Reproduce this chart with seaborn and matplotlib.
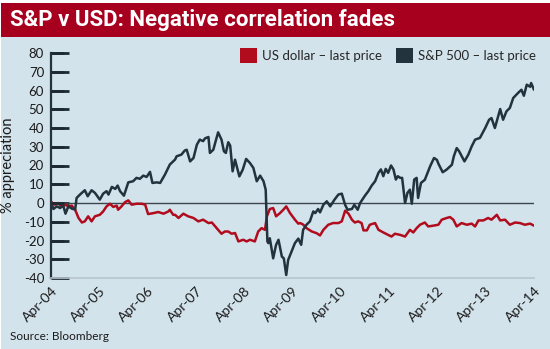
import numpy as np
import pandas as pd
import seaborn as sns
import matplotlib
matplotlib.use("Agg")
import matplotlib.pyplot as plt
from matplotlib.patches import Rectangle, Patch
from matplotlib.transforms import ScaledTranslation

# ---- data ----
sp_t = [2004.26, 2004.30, 2004.37, 2004.44, 2004.50, 2004.55, 2004.61, 2004.68, 2004.75, 2004.78,
        2004.85, 2004.95, 2005.01, 2005.09, 2005.16, 2005.26, 2005.33, 2005.40, 2005.44, 2005.51,
        2005.58, 2005.63, 2005.68, 2005.76, 2005.85, 2005.95, 2006.02, 2006.09, 2006.16, 2006.23,
        2006.30, 2006.35, 2006.44, 2006.51, 2006.61, 2006.71, 2006.82, 2006.85, 2006.95, 2007.02,
        2007.06, 2007.13, 2007.20, 2007.27, 2007.33, 2007.40, 2007.44, 2007.51, 2007.54, 2007.61,
        2007.71, 2007.78, 2007.83, 2007.87, 2007.92, 2007.96, 2008.01, 2008.06, 2008.15, 2008.22,
        2008.29, 2008.37, 2008.44, 2008.51, 2008.58, 2008.65, 2008.695, 2008.73, 2008.75, 2008.78,
        2008.85, 2008.91, 2008.96, 2009.03, 2009.07, 2009.12, 2009.16, 2009.23, 2009.30, 2009.37,
        2009.43, 2009.47, 2009.54, 2009.61, 2009.68, 2009.72, 2009.78, 2009.82, 2009.89, 2009.96,
        2010.03, 2010.12, 2010.20, 2010.27, 2010.34, 2010.39, 2010.48, 2010.53, 2010.60, 2010.65,
        2010.75, 2010.82, 2010.89, 2010.96, 2011.03, 2011.08, 2011.13, 2011.18, 2011.23, 2011.29,
        2011.34, 2011.39, 2011.43, 2011.48, 2011.52, 2011.58, 2011.63, 2011.68, 2011.72, 2011.77,
        2011.82, 2011.85, 2011.91, 2011.99, 2012.10, 2012.18, 2012.24, 2012.27, 2012.36, 2012.44,
        2012.55, 2012.59, 2012.65, 2012.70, 2012.81, 2012.89, 2012.96, 2013.03, 2013.13, 2013.24,
        2013.32, 2013.37, 2013.44, 2013.55, 2013.61, 2013.68, 2013.75, 2013.82, 2013.92, 2013.99,
        2014.04, 2014.10, 2014.17, 2014.19, 2014.25]
sp_v = [0, -3.2, -1.8, -2.7, -1.0, -5.7, -1.8, -3.0, -3.5, 2.7,
        4.5, 6.8, 3.6, 6.8, 5.4, 1.8, 5.0, 6.3, 4.5, 8.6,
        7.5, 9.3, 6.3, 3.9, 11.0, 11.6, 13.4, 12.9, 14.6, 13.9,
        16.6, 10.7, 11.0, 10.7, 15.2, 20.5, 23.2, 24.9, 25.8, 28.0,
        28.4, 22.2, 24.0, 31.1, 33.8, 33.0, 34.5, 35.2, 26.7, 28.4,
        37.7, 33.8, 27.6, 26.7, 32.4, 30.6, 16.9, 23.1, 14.2, 17.8,
        23.5, 21.3, 18.7, 11.6, 14.6, 11.6, 7.1, -20.5, -21.4, -18.8,
        -29.5, -22.3, -19.6, -28.6, -29.5, -38.4, -30.4, -25.9, -21.4, -19.0,
        -22.3, -14.3, -11.6, -9.8, -4.5, -5.4, -3.2, -5.0, -0.9, 0.9,
        -1.8, 1.8, 4.5, 5.0, -1.0, -3.6, -3.2, -1.0, -3.6, 0.0,
        3.9, 6.3, 9.3, 11.6, 16.1, 17.9, 14.3, 18.2, 16.1, 20.0,
        17.9, 12.5, 14.3, 13.4, 13.4, 0.0, 5.4, 7.1, -0.4, 12.5,
        13.4, 2.7, 10.7, 12.4, 19.6, 24.0, 23.0, 21.0, 16.4, 17.8,
        20.4, 24.9, 29.3, 27.6, 22.2, 25.8, 30.2, 33.8, 34.7, 40.0,
        44.4, 45.3, 40.0, 50.1, 44.4, 48.9, 50.7, 56.0, 58.7, 60.4,
        57.2, 63.1, 62.0, 64.0, 60.4]

usd_t = [2004.26, 2004.33, 2004.40, 2004.47, 2004.54, 2004.61, 2004.68, 2004.75, 2004.82, 2004.89,
         2004.95, 2005.02, 2005.09, 2005.16, 2005.26, 2005.33, 2005.40, 2005.47, 2005.54, 2005.61,
         2005.64, 2005.71, 2005.78, 2005.85, 2005.92, 2006.02, 2006.13, 2006.20, 2006.26, 2006.37,
         2006.47, 2006.58, 2006.68, 2006.71, 2006.78, 2006.82, 2006.89, 2006.99, 2007.09, 2007.20,
         2007.30, 2007.40, 2007.51, 2007.58, 2007.68, 2007.78, 2007.85, 2007.92, 2007.99, 2008.06,
         2008.13, 2008.23, 2008.30, 2008.37, 2008.47, 2008.54, 2008.61, 2008.68, 2008.72, 2008.78,
         2008.85, 2008.91, 2008.99, 2009.06, 2009.12, 2009.20, 2009.30, 2009.37, 2009.41, 2009.47,
         2009.54, 2009.65, 2009.75, 2009.82, 2009.89, 2009.99, 2010.09, 2010.20, 2010.27, 2010.34,
         2010.41, 2010.48, 2010.54, 2010.61, 2010.68, 2010.72, 2010.79, 2010.85, 2010.96, 2011.03,
         2011.13, 2011.23, 2011.30, 2011.37, 2011.48, 2011.58, 2011.68, 2011.75, 2011.82, 2011.89,
         2011.99, 2012.06, 2012.16, 2012.27, 2012.34, 2012.44, 2012.51, 2012.58, 2012.65, 2012.75,
         2012.86, 2012.96, 2013.03, 2013.10, 2013.20, 2013.30, 2013.37, 2013.48, 2013.55, 2013.65,
         2013.75, 2013.86, 2013.96, 2014.06, 2014.17, 2014.25]
usd_v = [0.5, -0.9, 0.0, -2.1, -0.9, -1.8, -1.4, -3.6, -8.0, -10.4,
         -9.8, -7.1, -9.8, -7.1, -6.3, -4.5, -1.8, -0.4, -2.1, -1.4,
         -3.6, -1.8, 0.4, 1.4, -0.9, -0.4, -0.4, -0.9, -5.9, -5.4,
         -4.8, -5.7, -4.5, -3.6, -6.3, -6.3, -8.0, -5.7, -7.1, -8.0,
         -9.8, -8.9, -10.7, -10.4, -13.4, -16.4, -15.2, -15.2, -16.4, -16.0,
         -20.5, -19.6, -20.5, -19.6, -20.5, -15.2, -13.4, -14.3, -7.1, -3.2,
         -2.7, -7.1, -5.4, -3.6, -1.8, -5.4, -8.9, -11.0, -10.7, -11.5,
         -13.4, -15.2, -16.1, -17.3, -14.3, -11.6, -10.7, -10.7, -9.8, -4.1,
         -5.7, -8.9, -10.4, -9.8, -10.7, -14.6, -14.6, -11.6, -10.7, -14.3,
         -15.7, -17.0, -17.9, -16.4, -17.0, -17.9, -14.3, -15.7, -13.4, -11.6,
         -10.4, -12.5, -12.1, -11.6, -8.9, -8.0, -7.5, -8.9, -12.5, -10.7,
         -11.6, -11.0, -12.5, -9.3, -9.3, -8.0, -8.9, -6.3, -9.3, -8.9,
         -11.6, -10.4, -10.7, -11.6, -11.0, -12.1]

series_names = ["US dollar \u2013 last price", "S&P 500 \u2013 last price"]
tick_years = [2004.25 + k for k in range(11)]
tick_labels = ["Apr-%02d" % (4 + k) for k in range(11)]
y_ticks = [80, 70, 60, 50, 40, 30, 20, 10, 0, -10, -20, -30, -40]

RED = "#b10c1d"
DARK = "#22333e"
BAND = "#a6001e"
PANEL = "#d3e3ec"

df = pd.concat([
    pd.DataFrame({"t": usd_t, "v": usd_v, "series": series_names[0]}),
    pd.DataFrame({"t": sp_t, "v": sp_v, "series": series_names[1]}),
])

sns.set_theme(style="white")
plt.rcParams.update({
    "font.family": ["Lato", "DejaVu Sans"],
    "ytick.left": True,
    "ytick.direction": "in",
    "ytick.major.size": 13,
    "ytick.major.width": 2.0,
    "ytick.major.pad": 5,
    "ytick.color": "#1e2a33",
    "ytick.labelcolor": "#1a1a1a",
    "xtick.bottom": False,
    "xtick.major.size": 0,
})

W, H = 550, 349
fig = plt.figure(figsize=(W / 100, H / 100), dpi=100)
fig.patch.set_facecolor("white")
# background panels
fig.add_artist(Rectangle((1 / W, 0), 1, (H - 37) / H, transform=fig.transFigure,
                         facecolor=PANEL, edgecolor="none", zorder=-5))
fig.add_artist(Rectangle((1 / W, (H - 37) / H), 1, 34 / H, transform=fig.transFigure,
                         facecolor=BAND, edgecolor="none", zorder=-5))
fig.text(10 / W, (H - 20) / H, "S&P v USD: Negative correlation fades", color="white",
         fontsize=16, fontweight="bold", va="center", ha="left",
         family=["Roboto", "DejaVu Sans"])

ax = fig.add_axes([51 / W, (H - 278) / H, (534 - 51) / W, (278 - 53) / H])
ax.set_facecolor("none")
ax.set_zorder(3)

sns.lineplot(data=df, x="t", y="v", hue="series", palette=[RED, DARK],
             hue_order=series_names, sort=False, estimator=None, lw=1.8, ax=ax, legend=False)

ax.axhline(0, color="#3a454c", lw=1.0, zorder=1)
ax.set_xlim(2004.25, 2014.25)
ax.set_ylim(-40, 80)
ax.set_yticks(y_ticks)
ax.set_yticklabels([str(v) for v in y_ticks], fontsize=9.5)
# inward tick marks along the value axis
ax.hlines(y_ticks[:-1], 0, 13 / 483, transform=ax.get_yaxis_transform(),
          colors="#1e2a33", lw=2.0, zorder=5, clip_on=False)
ax.set_xticks(tick_years)
ax.set_xticklabels(tick_labels, fontsize=10, rotation=45, ha="right",
                   rotation_mode="anchor", color="#1a1a1a")
offset = ScaledTranslation(12 / 100, 0, fig.dpi_scale_trans)
for lbl in ax.get_xticklabels():
    lbl.set_transform(lbl.get_transform() + offset)
ax.tick_params(axis="x", pad=5)
for s in ["top", "right"]:
    ax.spines[s].set_visible(False)
ax.spines["left"].set_color(DARK)
ax.spines["left"].set_linewidth(1.6)
ax.spines["bottom"].set_color("#b7c4cc")
ax.spines["bottom"].set_linewidth(1.2)
ax.set_xlabel("")
ax.set_ylabel("% appreciation", fontsize=10.5, color="#1a1a1a", labelpad=6)

handles = [Patch(facecolor=RED, edgecolor="none"), Patch(facecolor=DARK, edgecolor="none")]
ax.legend(handles, series_names, loc="upper right", bbox_to_anchor=(1.015, 1.045), ncol=2,
          frameon=False, fontsize=9.5, handlelength=1.3, handleheight=1.3,
          handletextpad=0.4, columnspacing=1.0, borderaxespad=0)

fig.text(10 / W, (H - 336) / H, "Source: Bloomberg", fontsize=8.5, color="#1a1a1a",
         ha="left", va="center")

fig.savefig("out.png", dpi=100)
